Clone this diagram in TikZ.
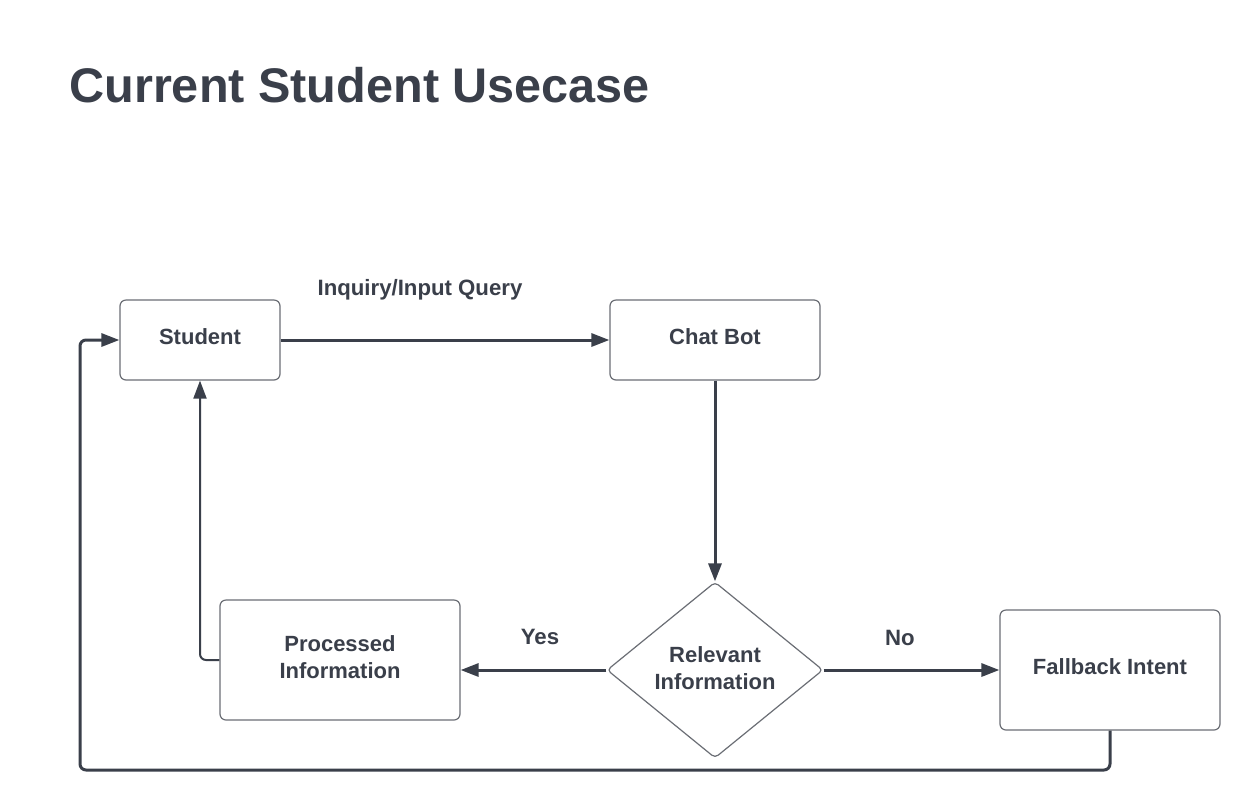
\documentclass[tikz,border=0pt]{standalone}
\usepackage{fontspec}
\setmainfont{Liberation Sans}
\usetikzlibrary{arrows.meta,shapes.geometric}
\definecolor{ink}{HTML}{3A3F4A}
\definecolor{edgec}{HTML}{6B6E75}
\begin{document}
\begin{tikzpicture}[x=0.5pt,y=-0.5pt,
  box/.style={draw=edgec,line width=0.6pt,rounded corners=3pt,fill=white,inner sep=0pt,
    font=\bfseries\fontsize{11}{13.5}\selectfont,text=ink,align=center,text depth=3pt},
  conn/.style={draw=ink,line width=1.5pt,-{Triangle[length=9pt,width=6.5pt]},rounded corners=3pt},
  thinconn/.style={conn,line width=1pt},
  lbl/.style={font=\bfseries\fontsize{11.1}{13.5}\selectfont,text=ink}]
\useasboundingbox[fill=white] (0,0) rectangle (1260,811);
\node[anchor=base west,inner sep=0pt,font=\bfseries\fontsize{24.3}{29}\selectfont,text=ink] (title) at (69,102) {Current Student Usecase};
\node[box,minimum width=80pt,minimum height=40pt] (student) at (200,340) {Student};
\node[box,minimum width=105pt,minimum height=40pt] (chat) at (715,340) {Chat Bot};
\node[diamond,draw=edgec,line width=0.6pt,fill=white,inner sep=0pt,aspect=1.227,
  minimum width=108pt,minimum height=88pt,rounded corners=2pt,text depth=2pt,
  font=\bfseries\fontsize{11}{13.5}\selectfont,text=ink,align=center] (rel) at (715,670) {Relevant\\Information};
\node[box,minimum width=120pt,minimum height=60pt] (proc) at (340,660) {Processed\\Information};
\node[box,minimum width=110pt,minimum height=60pt] (fb) at (1110,670) {Fallback Intent};
\coordinate (loopc) at (80,770);
\draw[conn] (student.east) -- (chat.west);
\draw[conn] (chat.south) -- (rel.north);
\draw[conn] (rel.west) -- (rel.west -| proc.east);
\draw[conn] (rel.east) -- (fb.west);
\draw[thinconn] (proc.west) -| (student.south);
\draw[conn] (fb.south) |- (loopc) |- (student.west);
\node[lbl] (inq) at (420,290) {Inquiry/Input Query};
\node[lbl] (yes) at (540,637) {Yes};
\node[lbl] (no) at (900,638) {No};
\end{tikzpicture}
\end{document}
